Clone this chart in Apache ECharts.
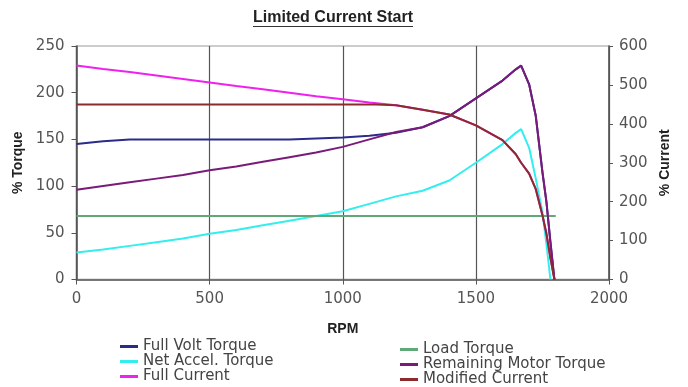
<!DOCTYPE html>
<html>
<head>
<meta charset="utf-8">
<script src="https://cdn.jsdelivr.net/npm/echarts@6/dist/echarts.min.js"></script>
<style>
  html, body { margin: 0; padding: 0; background: #fff; }
  #chart { width: 688px; height: 387px; }
</style>
</head>
<body>
<div id="chart"></div>
<script>
// ---- data ----
const rpm = [0,100,200,300,400,500,600,700,800,900,1000,1100,1200,1300,1400,1500,1600,1650,1670,1700,1725,1750,1765,1780,1795];
const fullVoltTorque  = [145,148,150,150,150,150,150,150,150,151,152,154,157,163,175,194,213,225,229,209,175,115,83,40,0];
const netAccelTorque  = [29,32,36,40,44,49,53,58,63,68,73,81,89,95,106,125,145,157,161,141,108,72,38,0,null];
const fullCurrent     = [550,541,533,524,515,506,497,489,480,471,463,455,448,436,424,396,358,322,300,272,232,165,118,55,0];
const remainingTorque = [96,100,104,108,112,117,121,126,131,136,142,150,158,163,175,194,213,225,229,209,175,115,83,40,0];
const modifiedCurrent = [450,450,450,450,450,450,450,450,450,450,450,450,448,436,424,396,358,322,300,272,232,165,118,55,0];
const loadRpm    = [0, 1800];
const loadTorque = [68, 68];

const rpmTicks     = [0, 500, 1000, 1500, 2000];
const torqueTicks  = [0, 50, 100, 150, 200, 250];
const currentTicks = [0, 100, 200, 300, 400, 500, 600];

const titleText = 'Limited Current Start';

const pairs = (xs, ys) => xs.map((x, i) => [x, ys[i]]).filter(p => p[1] !== null);

const chart = echarts.init(document.getElementById('chart'), null, { renderer: 'canvas' });
const tickFont = { fontFamily: 'DejaVu Sans', fontSize: 15, color: '#555', formatter: v => String(v) };
const axisLine = { show: true, lineStyle: { color: '#555', width: 1.5 } };

// measure title width for the underline
const titleFont = 'bold 16px "Liberation Sans"';
const ctx = document.createElement('canvas').getContext('2d');
ctx.font = titleFont;
const tw = ctx.measureText(titleText).width;
const tcx = 333, tcy = 18;

const mk = (name, data, color, yIdx) => ({
  name, type: 'line', data, yAxisIndex: yIdx, showSymbol: false, symbol: 'none',
  lineStyle: { color, width: 2 }, itemStyle: { color }, animation: false, clip: true
});

const legendCommon = {
  orient: 'vertical', itemWidth: 18, itemHeight: 3, itemGap: 0, icon: 'rect', padding: 0,
  textStyle: { fontFamily: 'DejaVu Sans', fontSize: 15, color: '#444', lineHeight: 14.5 }
};

chart.setOption({
  animation: false,
  graphic: [
    { type: 'text', x: tcx, y: tcy, style: { text: titleText, font: titleFont, fill: '#222', align: 'center', verticalAlign: 'middle' } },
    { type: 'line', shape: { x1: tcx - tw / 2, y1: tcy + 8.5, x2: tcx + tw / 2, y2: tcy + 8.5 }, style: { stroke: '#333', lineWidth: 1 } }
  ],
  grid: { left: 76.5, right: 79, top: 46, bottom: 107.5, show: true, borderColor: '#ccc', borderWidth: 2 },
  legend: [
    Object.assign({ data: ['Full Volt Torque', 'Net Accel. Torque', 'Full Current'], left: 120, top: 339 }, legendCommon),
    Object.assign({ data: ['Load Torque', 'Remaining Motor Torque', 'Modified Current'], left: 400, top: 342 }, legendCommon)
  ],
  xAxis: {
    type: 'value', min: rpmTicks[0], max: rpmTicks[rpmTicks.length - 1], interval: rpmTicks[1] - rpmTicks[0],
    name: 'RPM', nameLocation: 'middle', nameGap: 43,
    nameTextStyle: { fontFamily: 'Liberation Sans', fontWeight: 'bold', fontSize: 14, color: '#222' },
    axisLine, axisTick: { show: true, length: 5, lineStyle: { color: '#555' } },
    axisLabel: Object.assign({ margin: 12 }, tickFont),
    splitLine: { show: true, lineStyle: { color: '#555', width: 1.2 } }
  },
  yAxis: [
    { type: 'value', position: 'left', min: torqueTicks[0], max: torqueTicks[torqueTicks.length - 1], interval: torqueTicks[1] - torqueTicks[0],
      name: '% Torque', nameLocation: 'middle', nameGap: 51, nameRotate: 90,
      nameTextStyle: { fontFamily: 'Liberation Sans', fontWeight: 'bold', fontSize: 14, color: '#222' },
      axisLine, axisTick: { show: true, length: 5, lineStyle: { color: '#555' } },
      axisLabel: Object.assign({ margin: 12 }, tickFont), splitLine: { show: false } },
    { type: 'value', position: 'right', min: currentTicks[0], max: currentTicks[currentTicks.length - 1], interval: currentTicks[1] - currentTicks[0],
      name: '% Current', nameLocation: 'middle', nameGap: 46, nameRotate: 90,
      nameTextStyle: { fontFamily: 'Liberation Sans', fontWeight: 'bold', fontSize: 14, color: '#222' },
      axisLine, axisTick: { show: true, length: 4, lineStyle: { color: '#555' } },
      axisLabel: Object.assign({ margin: 10 }, tickFont), splitLine: { show: false } }
  ],
  series: [
    mk('Full Volt Torque', pairs(rpm, fullVoltTorque), '#2b2b8c', 0),
    mk('Net Accel. Torque', pairs(rpm, netAccelTorque), '#33eeee', 0),
    mk('Full Current', pairs(rpm, fullCurrent), '#ee22ee', 1),
    mk('Load Torque', pairs(loadRpm, loadTorque), '#5fa878', 0),
    mk('Remaining Motor Torque', pairs(rpm, remainingTorque), '#7a1a7a', 0),
    mk('Modified Current', pairs(rpm, modifiedCurrent), '#8b2b2b', 1)
  ]
});
</script>
</body>
</html>
